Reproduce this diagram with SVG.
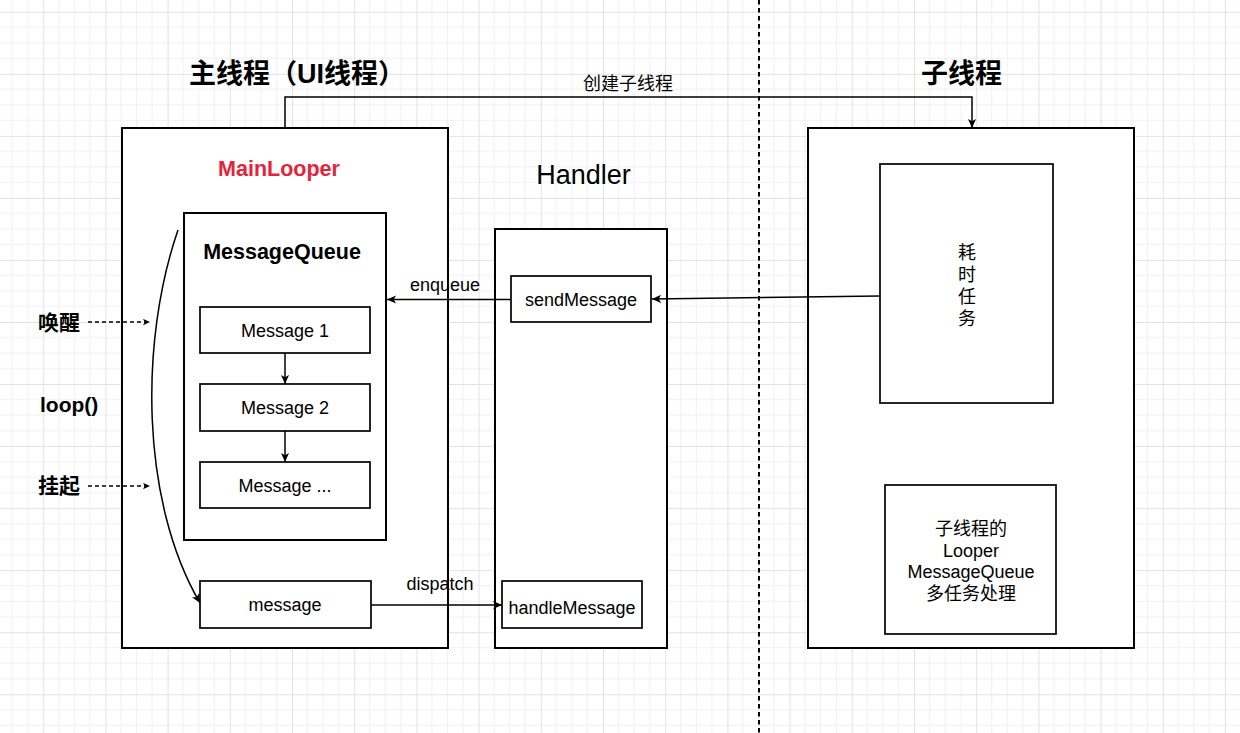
<svg xmlns="http://www.w3.org/2000/svg" width="1240" height="733" viewBox="0 0 1240 733">
<style>
.box{fill:#ffffff;stroke:#000000;stroke-width:2}
.sbox{fill:#ffffff;stroke:#000000;stroke-width:1.7}
.t{font-family:"Liberation Sans","Noto Sans CJK SC",sans-serif;fill:#000000}
.c{text-anchor:middle}
.n18{font-size:18px}
.b21{font-size:21px;font-weight:bold}
.title{font-size:27px;font-weight:bold}
.conn{fill:none;stroke:#000000;stroke-width:1.5}
.dash{fill:none;stroke:#000000;stroke-width:1.3;stroke-dasharray:4 3}
</style>
<defs>
<pattern id="grid" patternUnits="userSpaceOnUse" x="43.2" y="11.75" width="62.2" height="62.05">
<rect width="62.2" height="62.05" fill="#ffffff"/>
<path d="M15.55,0V62.05M31.1,0V62.05M46.65,0V62.05M0,15.51H62.2M0,31.02H62.2M0,46.54H62.2" stroke="#f1f1f1" stroke-width="1"/>
<path d="M0.5,0V62.05M0,0.5H62.2" stroke="#e2e2e2" stroke-width="1"/>
</pattern>
<marker id="arr" viewBox="0 0 10 10" refX="10" refY="5" markerUnits="userSpaceOnUse" markerWidth="9" markerHeight="9" orient="auto">
<path d="M0,0.5 L10,5 L0,9.5 L2.5,5 z" fill="#000000"/>
</marker>
<marker id="arrs" viewBox="0 0 10 10" refX="10" refY="5" markerUnits="userSpaceOnUse" markerWidth="7" markerHeight="7" orient="auto">
<path d="M0,0.5 L10,5 L0,9.5 L2.5,5 z" fill="#000000"/>
</marker>
</defs>
<rect width="1240" height="733" fill="url(#grid)"/>
<line x1="759" y1="0" x2="759" y2="733" stroke="#000000" stroke-width="2" stroke-dasharray="4.5 3.5"/>

<g id="main-thread">
<rect class="box" x="122" y="128" width="326" height="520"/>
<text class="t title" x="189" y="83">主线程（UI线程）</text>
<text class="t c" x="279" y="176" style="font-size:21.5px;font-weight:bold;fill:#e3243b">MainLooper</text>
</g>
<g id="message-queue">
<rect class="box" x="184" y="213" width="202" height="327"/>
<text class="t c" x="282" y="259" style="font-size:21.5px;font-weight:bold">MessageQueue</text>
</g>
<g id="message-1">
<rect class="sbox" x="200" y="307" width="170" height="46"/>
<text class="t c n18" x="285" y="336.5">Message 1</text>
</g>
<g id="message-2">
<rect class="sbox" x="200" y="384" width="170" height="47"/>
<text class="t c n18" x="285" y="414">Message 2</text>
</g>
<g id="message-more">
<rect class="sbox" x="200" y="462" width="170" height="46"/>
<text class="t c n18" x="285" y="491.5">Message ...</text>
</g>
<g id="message">
<rect class="sbox" x="200" y="581" width="171" height="47"/>
<text class="t c n18" x="285" y="611">message</text>
</g>
<g id="wake-label">
<text class="t b21" x="38" y="330">唤醒</text>
</g>
<g id="loop-label">
<text class="t b21" x="40" y="412">loop()</text>
</g>
<g id="suspend-label">
<text class="t b21" x="38" y="493">挂起</text>
</g>

<g id="handler">
<rect class="box" x="495" y="229" width="172" height="419"/>
<text class="t c" x="583.5" y="183.5" style="font-size:27px">Handler</text>
</g>
<g id="send-message">
<rect class="sbox" x="511" y="276" width="140" height="46"/>
<text class="t c n18" x="581" y="306">sendMessage</text>
</g>
<g id="handle-message">
<rect class="sbox" x="502" y="581" width="140" height="47"/>
<text class="t c n18" x="572" y="614">handleMessage</text>
</g>

<g id="child-thread">
<rect class="box" x="808" y="128" width="326" height="520"/>
<text class="t title" x="921" y="83">子线程</text>
</g>
<g id="long-task">
<rect class="sbox" x="880" y="164" width="173" height="239"/>
<text class="t c n18" x="967" y="258.5">耗</text>
<text class="t c n18" x="967" y="280.5">时</text>
<text class="t c n18" x="967" y="302.5">任</text>
<text class="t c n18" x="967" y="324.5">务</text>
</g>
<g id="child-looper">
<rect class="sbox" x="885" y="485" width="171" height="149"/>
<text class="t c n18" x="971" y="535">子线程的</text>
<text class="t c n18" x="971" y="556.7">Looper</text>
<text class="t c n18" x="971" y="578.3">MessageQueue</text>
<text class="t c n18" x="971" y="600">多任务处理</text>
</g>

<g id="connectors">
<path class="conn" d="M285,128 V97 H972 V128" marker-end="url(#arr)"/>
<text class="t c n18" x="628" y="90">创建子线程</text>
<path class="conn" d="M285,353 V384" marker-end="url(#arr)"/>
<path class="conn" d="M285,431 V462" marker-end="url(#arr)"/>
<path class="conn" d="M880,296 L652,299" marker-end="url(#arr)"/>
<path class="conn" d="M511,299.5 L387,299.5" marker-end="url(#arr)"/>
<text class="t c n18" x="445" y="291">enqueue</text>
<path class="conn" d="M371,605 L502,605" marker-end="url(#arr)"/>
<text class="t c n18" x="440" y="589.5">dispatch</text>
<path class="conn" d="M178,230 C140,340 140,500 200,603" marker-end="url(#arr)"/>
<path class="dash" d="M88,322 L150,322" marker-end="url(#arrs)"/>
<path class="dash" d="M88,486 L150,486" marker-end="url(#arrs)"/>
</g>
</svg>
